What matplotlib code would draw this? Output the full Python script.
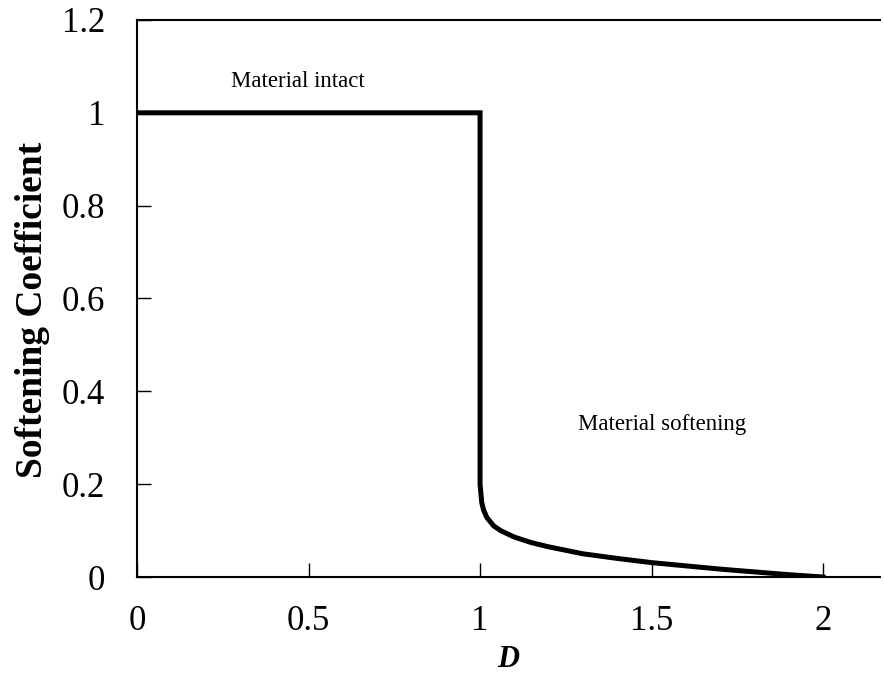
import numpy as np
import matplotlib.pyplot as plt

# softening coefficient vs D
d_vals = [0.0, 1.0, 1.0, 1.005, 1.01, 1.02, 1.04, 1.06, 1.1, 1.15, 1.2,
          1.3, 1.4, 1.5, 1.6, 1.7, 1.8, 1.9, 2.0]
k_vals = [1.0, 1.0, 0.20, 0.16, 0.145, 0.128, 0.11, 0.10, 0.086, 0.074,
          0.065, 0.050, 0.040, 0.031, 0.024, 0.017, 0.011, 0.005, 0.0]

x_ticks = [0, 0.5, 1, 1.5, 2]
x_tick_labels = ["0", "0.5", "1", "1.5", "2"]
y_ticks = [0, 0.2, 0.4, 0.6, 0.8, 1.0, 1.2]
y_tick_labels = ["0", "0.2", "0.4", "0.6", "0.8", "1", "1.2"]

plt.rcParams["font.family"] = ["Liberation Serif", "DejaVu Serif"]

fig = plt.figure(figsize=(8.84, 6.77), dpi=100)
ax = fig.add_axes([0.155, 0.1477, 0.8405, 0.8228])

ax.plot(d_vals, k_vals, color="black", lw=3.6, solid_joinstyle="miter")

ax.set_xlim(0, 2.166)
ax.set_ylim(0, 1.2)
ax.set_xticks(x_ticks)
ax.set_xticklabels(x_tick_labels)
ax.set_yticks(y_ticks)
ax.set_yticklabels(y_tick_labels)
ax.tick_params(direction="in", length=10, width=1, labelsize=25)
ax.tick_params(axis="y", pad=23)
ax.tick_params(axis="x", pad=20)

ax.spines["right"].set_visible(False)
for s in ["left", "bottom", "top"]:
    ax.spines[s].set_linewidth(1.5)

ax.set_xlabel("D", fontsize=22, fontweight="bold", fontstyle="italic",
              labelpad=5)
ax.set_ylabel("Softening Coefficient", fontsize=27, fontweight="bold")
ax.yaxis.set_label_coords(-0.117, 0.479)

ax.text(0.47, 1.067, "Material intact", fontsize=16.5, ha="center",
        va="center")
ax.text(1.53, 0.328, "Material softening", fontsize=16.5, ha="center",
        va="center")

fig.savefig("out.png", dpi=100)
